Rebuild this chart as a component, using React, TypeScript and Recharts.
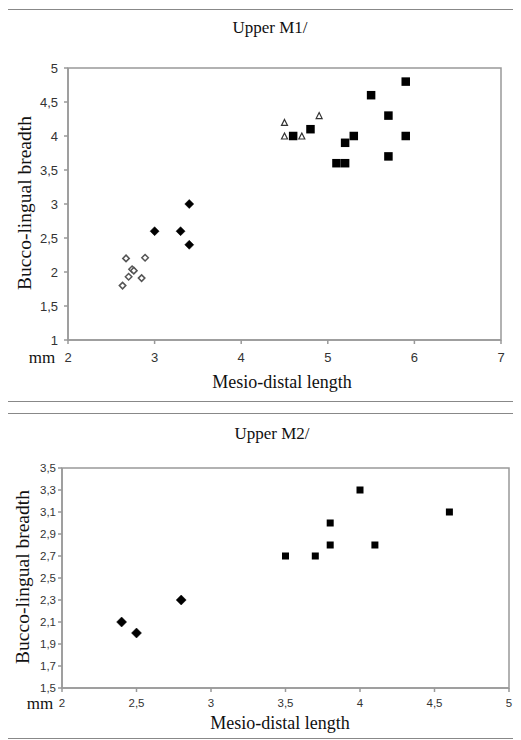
import React from 'react';
import { ScatterChart, Scatter, XAxis, YAxis, ReferenceArea } from 'recharts';

// Upper M1/
const m1Squares = [
  { x: 4.6, y: 4.0 }, { x: 4.8, y: 4.1 }, { x: 5.1, y: 3.6 }, { x: 5.2, y: 3.6 },
  { x: 5.2, y: 3.9 }, { x: 5.3, y: 4.0 }, { x: 5.5, y: 4.6 }, { x: 5.7, y: 4.3 },
  { x: 5.7, y: 3.7 }, { x: 5.9, y: 4.8 }, { x: 5.9, y: 4.0 },
];
const m1Triangles = [
  { x: 4.5, y: 4.2 }, { x: 4.5, y: 4.0 }, { x: 4.7, y: 4.0 }, { x: 4.9, y: 4.3 },
];
const m1Diamonds = [
  { x: 3.0, y: 2.6 }, { x: 3.3, y: 2.6 }, { x: 3.4, y: 3.0 }, { x: 3.4, y: 2.4 },
];
const m1OpenDiamonds = [
  { x: 2.63, y: 1.8 }, { x: 2.67, y: 2.2 }, { x: 2.7, y: 1.93 }, { x: 2.74, y: 2.04 },
  { x: 2.76, y: 2.02 }, { x: 2.85, y: 1.91 }, { x: 2.89, y: 2.21 },
];
const m1XTicks = [2, 3, 4, 5, 6, 7];
const m1YTicks = [1, 1.5, 2, 2.5, 3, 3.5, 4, 4.5, 5];

// Upper M2/
const m2Squares = [
  { x: 3.5, y: 2.7 }, { x: 3.7, y: 2.7 }, { x: 3.8, y: 2.8 }, { x: 3.8, y: 3.0 },
  { x: 4.0, y: 3.3 }, { x: 4.1, y: 2.8 }, { x: 4.6, y: 3.1 },
];
const m2Diamonds = [
  { x: 2.4, y: 2.1 }, { x: 2.5, y: 2.0 }, { x: 2.8, y: 2.3 },
];
const m2XTicks = [2, 2.5, 3, 3.5, 4, 4.5, 5];
const m2YTicks = [1.5, 1.7, 1.9, 2.1, 2.3, 2.5, 2.7, 2.9, 3.1, 3.3, 3.5];

const comma = (v: number) => String(v).replace('.', ',');

const square = (s: number) => (p: any) => (
  <rect x={p.cx - s / 2} y={p.cy - s / 2} width={s} height={s} fill="#000" />
);
const diamond = (s: number, fill: string, stroke: string, sw: number) => (p: any) => (
  <polygon
    points={`${p.cx},${p.cy - s / 2} ${p.cx + s / 2},${p.cy} ${p.cx},${p.cy + s / 2} ${p.cx - s / 2},${p.cy}`}
    fill={fill}
    stroke={stroke}
    strokeWidth={sw}
  />
);
const triangle = (s: number) => (p: any) => (
  <polygon
    points={`${p.cx},${p.cy - s / 2} ${p.cx + s / 2},${p.cy + s / 2} ${p.cx - s / 2},${p.cy + s / 2}`}
    fill="#fff"
    stroke="#333"
    strokeWidth={1.2}
  />
);

const serif = '"Liberation Serif", "Times New Roman", serif';
const sans = '"Liberation Sans", Arial, sans-serif';
const axisStroke = '#999';

const txt = (x: number, y: number, size: number, text: string, rotate = false) => (
  <div
    style={{
      position: 'absolute',
      left: x,
      top: y,
      transform: `translate(-50%, -50%)${rotate ? ' rotate(-90deg)' : ''}`,
      fontFamily: serif,
      fontSize: size,
      color: '#111',
      whiteSpace: 'nowrap',
      lineHeight: 1,
    }}
  >
    {text}
  </div>
);

const box = (top: number, height: number) => (
  <div
    style={{
      position: 'absolute',
      left: -1,
      top,
      width: 530,
      height,
      borderLeft: '1.5px solid #888',
      borderTop: '1.5px solid #888',
      borderBottom: '1.5px solid #888',
      boxSizing: 'border-box',
    }}
  />
);

export default function App() {
  return (
    <div style={{ position: 'relative', width: 513, height: 732, overflow: 'hidden' }}>
      {box(1, 393)}
      {box(405, 326)}

      <div style={{ position: 'absolute', left: 0, top: 1 }}>
        <ScatterChart width={513} height={392} margin={{ top: 59, right: 20, bottom: 0, left: 0 }}>
          <XAxis
            type="number"
            dataKey="x"
            domain={[2, 7]}
            ticks={m1XTicks}
            tickFormatter={comma}
            height={61}
            allowDataOverflow
            stroke={axisStroke}
            strokeWidth={1.5}
            tickSize={4}
            tickMargin={9}
            tick={{ fontSize: 13, fill: '#333', fontFamily: sans }}
          />
          <YAxis
            type="number"
            dataKey="y"
            domain={[1, 5]}
            ticks={m1YTicks}
            tickFormatter={comma}
            width={60}
            allowDataOverflow
            stroke={axisStroke}
            strokeWidth={1.5}
            tickSize={4}
            tickMargin={6}
            tick={{ fontSize: 13, fill: '#333', fontFamily: sans }}
          />
          <ReferenceArea x1={2} x2={7} y1={1} y2={5} fill="none" stroke={axisStroke} strokeWidth={1.5} />
          <Scatter data={m1OpenDiamonds} shape={diamond(6.5, '#fff', '#555', 1.5)} isAnimationActive={false} />
          <Scatter data={m1Diamonds} shape={diamond(9, '#000', '#000', 0.5)} isAnimationActive={false} />
          <Scatter data={m1Triangles} shape={triangle(6)} isAnimationActive={false} />
          <Scatter data={m1Squares} shape={square(8.5)} isAnimationActive={false} />
        </ScatterChart>
      </div>
      {txt(262, 19, 17, 'Upper M1/')}
      {txt(17, 195, 19.5, 'Bucco-lingual breadth', true)}
      {txt(274, 374, 18, 'Mesio-distal length')}
      {txt(34, 349, 17, 'mm')}

      <div style={{ position: 'absolute', left: 0, top: 406 }}>
        <ScatterChart width={513} height={325} margin={{ top: 54, right: 12, bottom: 0, left: 0 }}>
          <XAxis
            type="number"
            dataKey="x"
            domain={[2, 5]}
            ticks={m2XTicks}
            tickFormatter={comma}
            height={51}
            allowDataOverflow
            stroke={axisStroke}
            strokeWidth={1.5}
            tickSize={4}
            tickMargin={7}
            tick={{ fontSize: 11.5, fill: '#333', fontFamily: sans }}
          />
          <YAxis
            type="number"
            dataKey="y"
            domain={[1.5, 3.5]}
            ticks={m2YTicks}
            tickFormatter={comma}
            width={54}
            allowDataOverflow
            stroke={axisStroke}
            strokeWidth={1.5}
            tickSize={4}
            tickMargin={2}
            tick={{ fontSize: 11.5, fill: '#333', fontFamily: sans }}
          />
          <ReferenceArea x1={2} x2={5} y1={1.5} y2={3.5} fill="none" stroke={axisStroke} strokeWidth={1.5} />
          <Scatter data={m2Diamonds} shape={diamond(10, '#000', '#000', 0.5)} isAnimationActive={false} />
          <Scatter data={m2Squares} shape={square(7)} isAnimationActive={false} />
        </ScatterChart>
      </div>
      {txt(264, 425, 17, 'Upper M2/')}
      {txt(15, 569, 19.5, 'Bucco-lingual breadth', true)}
      {txt(272, 715, 18, 'Mesio-distal length')}
      {txt(32, 695, 17, 'mm')}
    </div>
  );
}
